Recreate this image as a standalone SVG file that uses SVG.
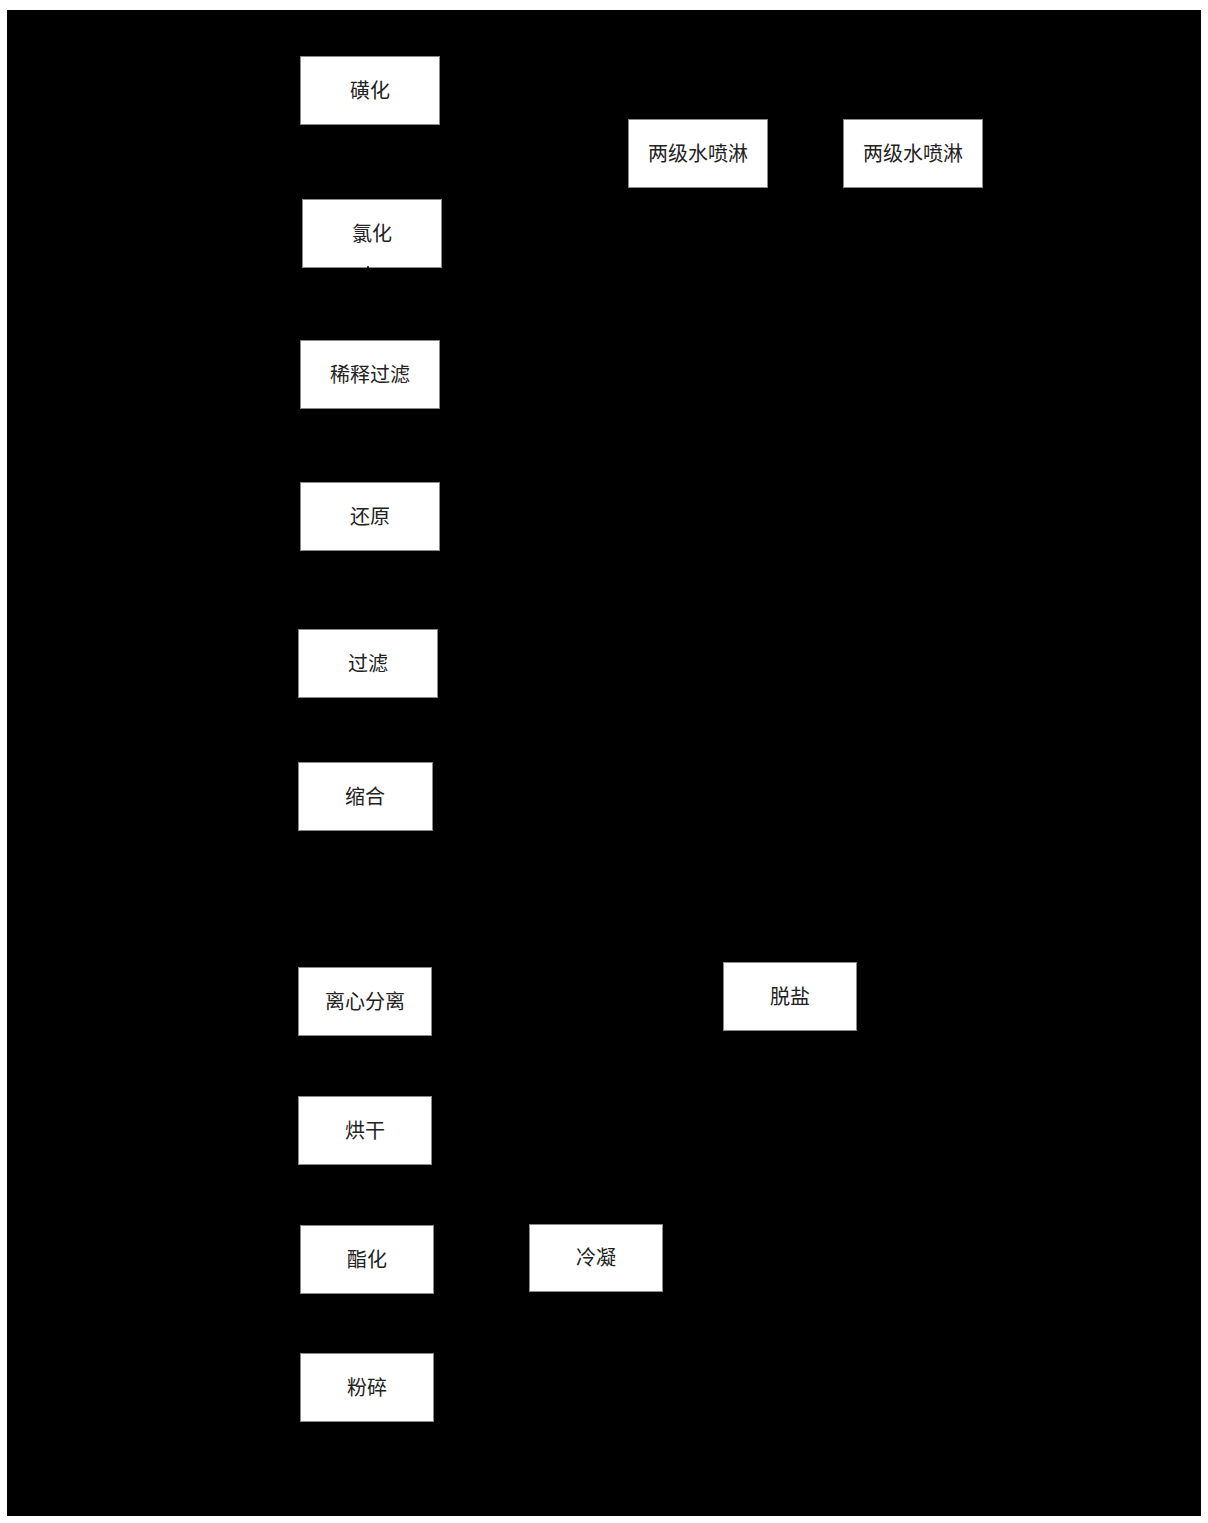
<svg xmlns="http://www.w3.org/2000/svg" width="1208" height="1523" viewBox="0 0 1208 1523">
<style>
.box{fill:#ffffff;stroke:#8a8a8a;stroke-width:1}
.lbl{font-family:"Liberation Serif","Noto Sans CJK SC",serif;font-size:20px;fill:#222222;text-anchor:middle;dominant-baseline:central}
.conn{stroke:#000000;stroke-width:1.5;fill:none}
</style>
<rect x="0" y="0" width="1208" height="1523" fill="#ffffff"/>
<rect x="7" y="10" width="1194" height="1506" fill="#000000"/>
<g id="n_sulfonation"><rect class="box" x="300.5" y="56.5" width="139" height="68"/><text class="lbl" x="370" y="91">磺化</text></g>
<g id="n_chlorination"><rect class="box" x="302.5" y="199.5" width="139" height="68"/><text class="lbl" x="372" y="234">氯化</text></g>
<g id="n_dilution"><rect class="box" x="300.5" y="340.5" width="139" height="68"/><text class="lbl" x="370" y="375">稀释过滤</text></g>
<g id="n_reduction"><rect class="box" x="300.5" y="482.5" width="139" height="68"/><text class="lbl" x="370" y="517">还原</text></g>
<g id="n_filter"><rect class="box" x="298.5" y="629.5" width="139" height="68"/><text class="lbl" x="368" y="664">过滤</text></g>
<g id="n_condensation"><rect class="box" x="298.5" y="762.5" width="134" height="68"/><text class="lbl" x="365" y="797">缩合</text></g>
<g id="n_centrifuge"><rect class="box" x="298.5" y="967.5" width="133" height="68"/><text class="lbl" x="365" y="1002">离心分离</text></g>
<g id="n_drying"><rect class="box" x="298.5" y="1096.5" width="133" height="68"/><text class="lbl" x="365" y="1131">烘干</text></g>
<g id="n_esterification"><rect class="box" x="300.5" y="1225.5" width="133" height="68"/><text class="lbl" x="367" y="1260">酯化</text></g>
<g id="n_crushing"><rect class="box" x="300.5" y="1353.5" width="133" height="68"/><text class="lbl" x="367" y="1388">粉碎</text></g>
<g id="n_spray1"><rect class="box" x="628.5" y="119.5" width="139" height="68"/><text class="lbl" x="698" y="154">两级水喷淋</text></g>
<g id="n_spray2"><rect class="box" x="843.5" y="119.5" width="139" height="68"/><text class="lbl" x="913" y="154">两级水喷淋</text></g>
<g id="n_desalt"><rect class="box" x="723.5" y="962.5" width="133" height="68"/><text class="lbl" x="790" y="997">脱盐</text></g>
<g id="n_condense"><rect class="box" x="529.5" y="1224.5" width="133" height="67"/><text class="lbl" x="596" y="1258">冷凝</text></g>
<g id="connectors"><line class="conn" x1="368" y1="266" x2="368" y2="340"/></g>
</svg>
